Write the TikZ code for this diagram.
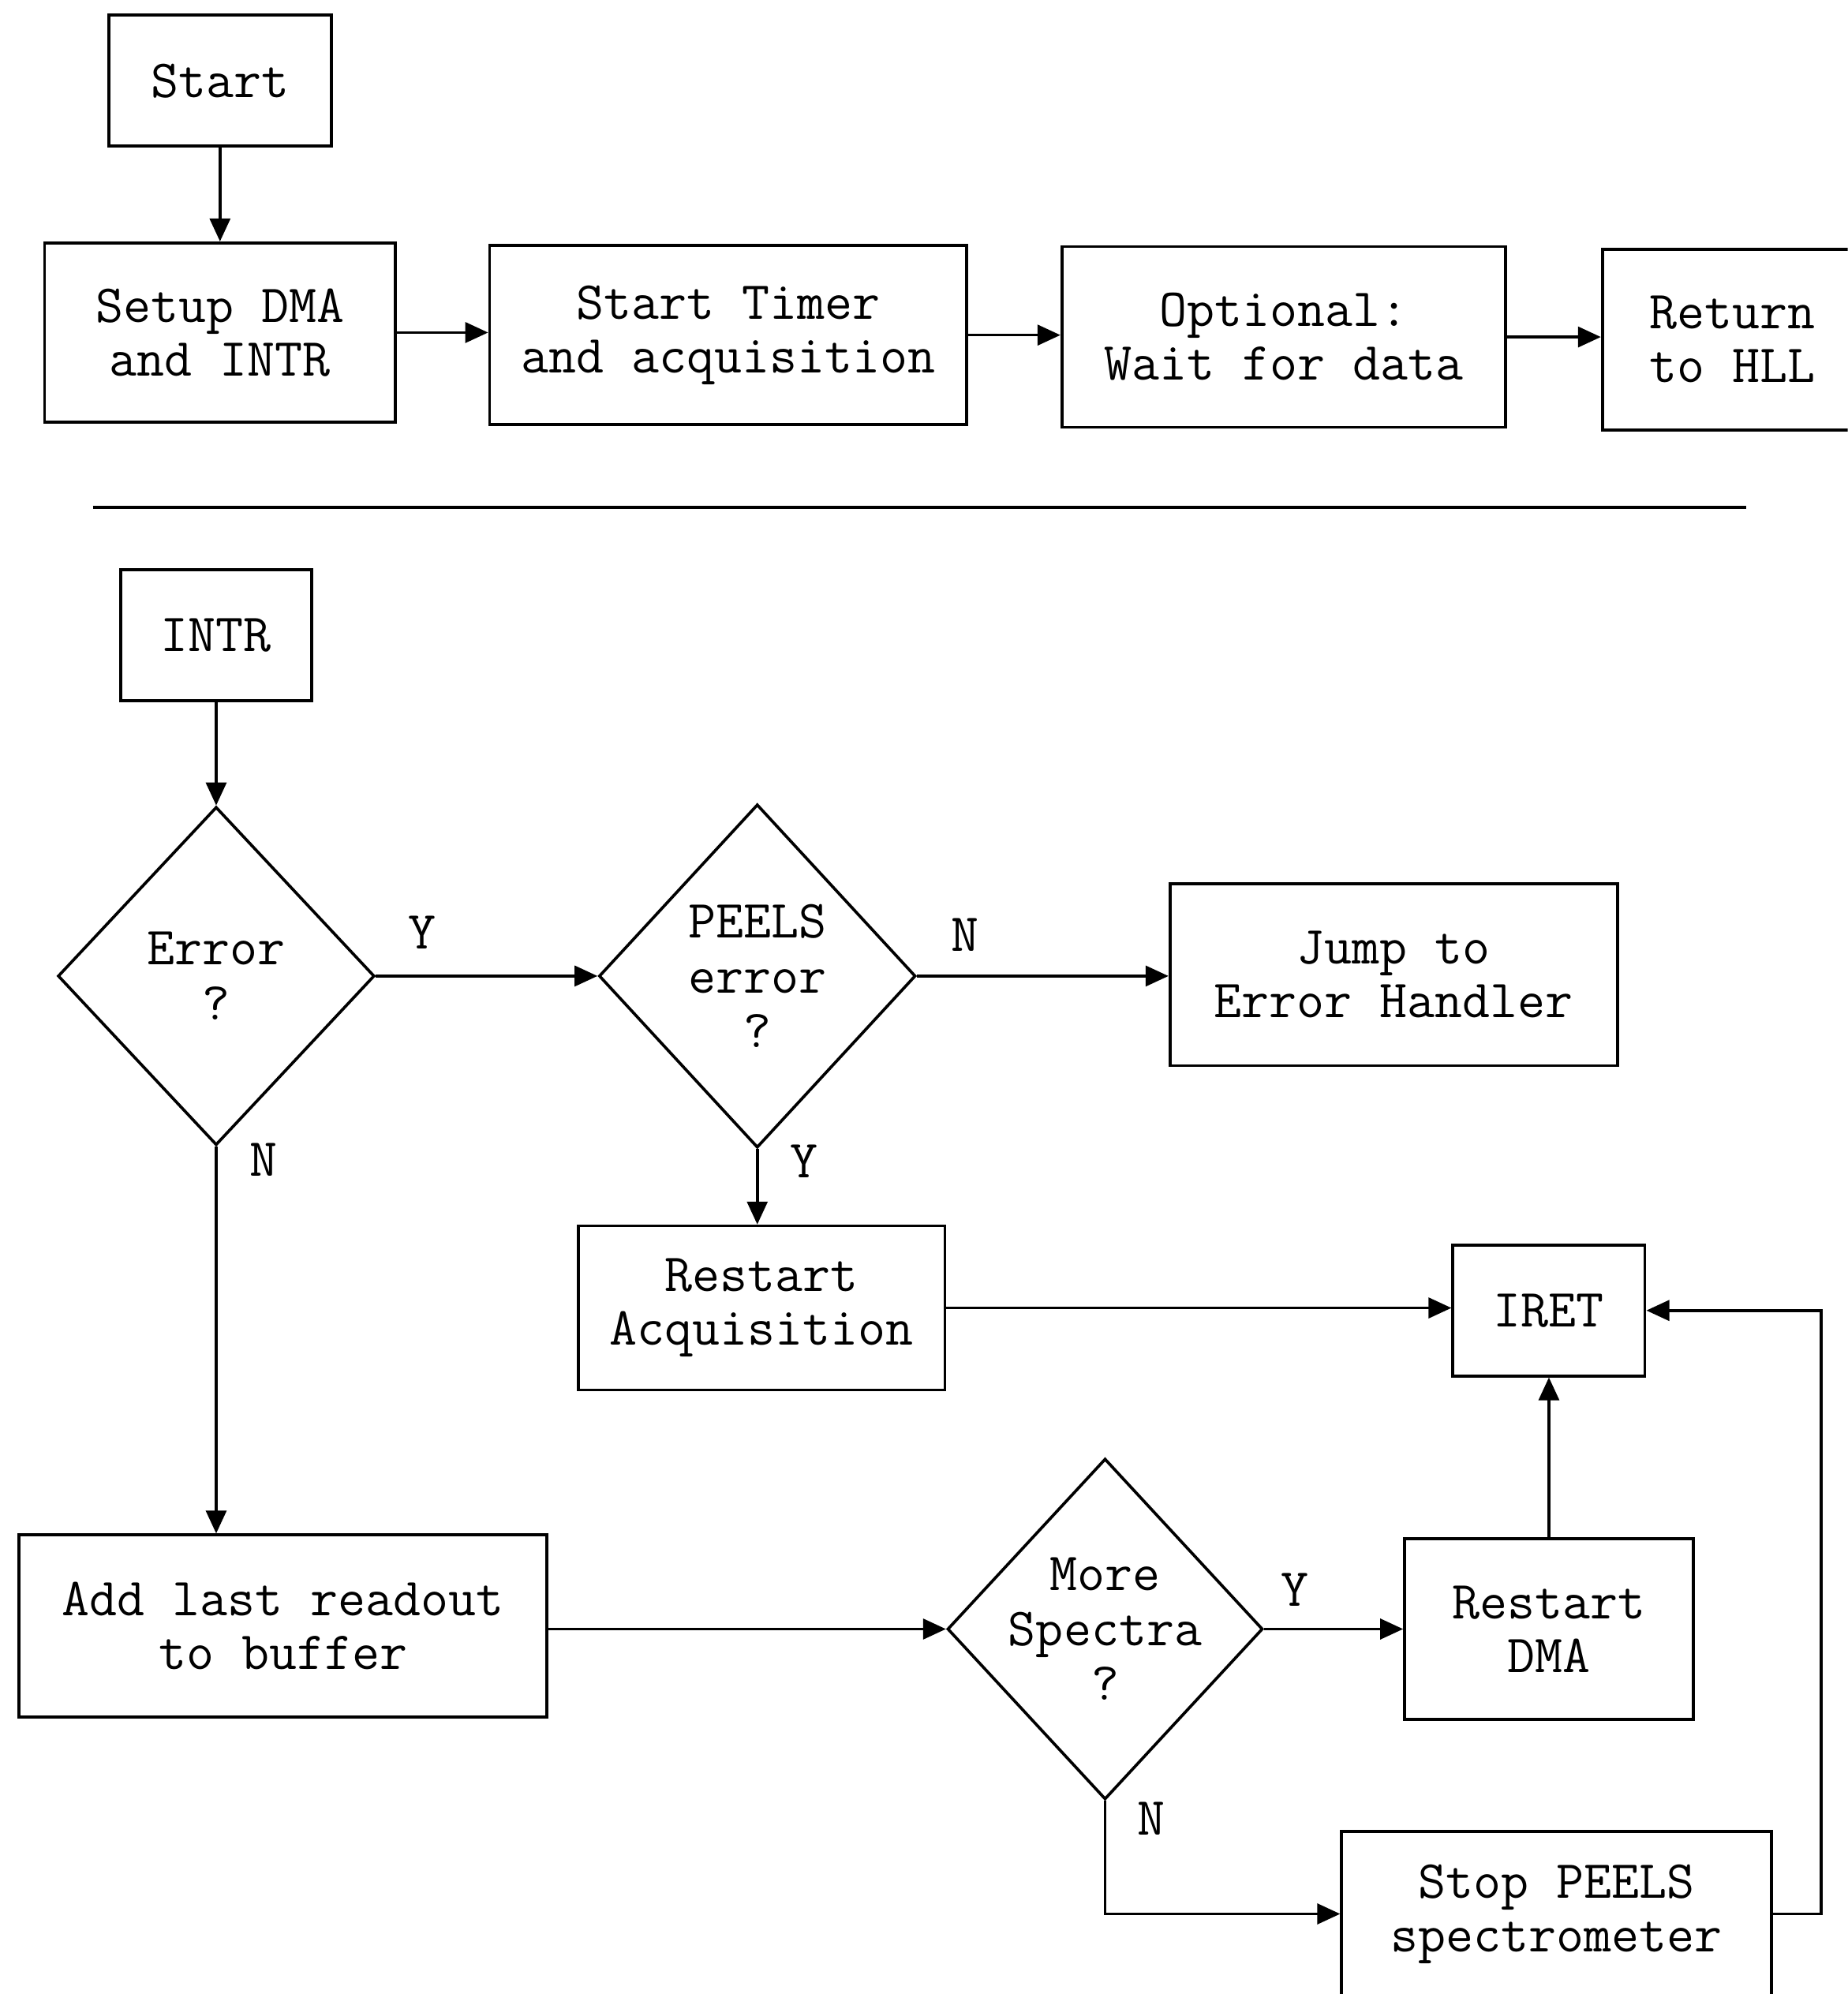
\documentclass[tikz,border=0pt]{standalone}
\usetikzlibrary{shapes.geometric,arrows.meta}

\begin{document}
\begin{tikzpicture}[
        box/.style={draw, line width=1.3pt, align=center, inner sep=0pt,
            font=\ttfamily\fontsize{24}{24}\selectfont},
        decision/.style={draw, diamond, line width=1.3pt, align=center, inner sep=0pt,
            font=\ttfamily\fontsize{24}{24.5}\selectfont},
        flow/.style={line width=1.3pt, -{Triangle[length=0.36cm, width=0.32cm]}},
        yn/.style={font=\ttfamily\fontsize{24}{24}\selectfont}
    ]
        \clip (0,0) rectangle (29.06,-31.36);

        % Draw setup row
        \node[box, minimum width=3.5cm, minimum height=2.06cm] (start) at (3.46, -1.27) {Start};
        \node[box, minimum width=5.52cm, minimum height=2.82cm] (setup) at (3.46, -5.23) {Setup DMA\\and INTR};
        \node[box, minimum width=7.5cm, minimum height=2.82cm] (timer) at (11.45, -5.27) {Start Timer\\and acquisition};
        \node[box, minimum width=6.98cm, minimum height=2.84cm] (wait) at (20.19, -5.30) {Optional:\\Wait for data};
        \node[box, minimum width=4.1cm, minimum height=2.84cm] (hll) at (27.25, -5.34) {Return\\to HLL};

        \draw[flow] (start) -- (setup);
        \draw[flow] (setup.east) -- (setup.east -| timer.west);
        \draw[flow] (timer.east) -- (timer.east -| wait.west);
        \draw[flow] (wait.east) -- (wait.east -| hll.west);

        % Divider
        \draw[line width=1.3pt] (1.46, -7.98) -- (27.46, -7.98);

        % Draw interrupt handler
        \node[box, minimum width=3.0cm, minimum height=2.06cm] (intr) at (3.40, -9.99) {INTR};
        \node[decision, minimum width=4.98cm, minimum height=5.32cm] (err) at (3.40, -15.35) {Error\\?};
        \node[decision, minimum width=4.98cm, minimum height=5.4cm] (peels) at (11.91, -15.35) {PEELS\\error\\?};
        \node[box, minimum width=7.04cm, minimum height=2.86cm] (jump) at (21.92, -15.33) {Jump to\\Error Handler};
        \node[box, minimum width=5.76cm, minimum height=2.58cm] (restartacq) at (11.98, -20.57) {Restart\\Acquisition};
        \node[box, minimum width=3.02cm, minimum height=2.06cm] (iret) at (24.36, -20.61) {IRET};
        \node[box, minimum width=8.3cm, minimum height=2.86cm] (add) at (4.45, -25.57) {Add last readout\\to buffer};
        \node[decision, minimum width=4.96cm, minimum height=5.36cm, inner xsep=-0.35cm] (more) at (17.38, -25.62) {More\\Spectra\\?};
        \node[box, minimum width=4.54cm, minimum height=2.84cm] (restartdma) at (24.36, -25.62) {Restart\\DMA};
        \node[box, minimum width=6.76cm, minimum height=2.6cm] (stop) at (24.48, -30.1) {Stop PEELS\\spectrometer};
        \coordinate (loop) at (28.64, -30.1);

        % Draw edges
        \draw[flow] (intr) -- (err);
        \draw[flow] (err.east) -- (peels.west);
        \draw[flow] (peels.east) -- (peels.east -| jump.west);
        \draw[flow] (err.south) -- (err.south |- add.north);
        \draw[flow] (peels.south) -- (peels.south |- restartacq.north);
        \draw[flow] (restartacq.east) -- (restartacq.east -| iret.west);
        \draw[flow] (add.east |- more.west) -- (more.west);
        \draw[flow] (more.east) -- (more.east -| restartdma.west);
        \draw[flow] (restartdma) -- (iret);
        \draw[flow] (more.south) |- (stop.west);
        \draw[flow] (stop.east) -- (loop) |- (iret.east);

        % Branch labels
        \node[yn] (erry) at (6.64, -14.66) {Y};
        \node[yn] (errn) at (4.14, -18.24) {N};
        \node[yn] (peelsn) at (15.18, -14.70) {N};
        \node[yn] (peelsy) at (12.64, -18.26) {Y};
        \node[yn] (morey) at (20.36, -25.0) {Y};
        \node[yn] (moren) at (18.1, -28.6) {N};
    \end{tikzpicture}
\end{document}
